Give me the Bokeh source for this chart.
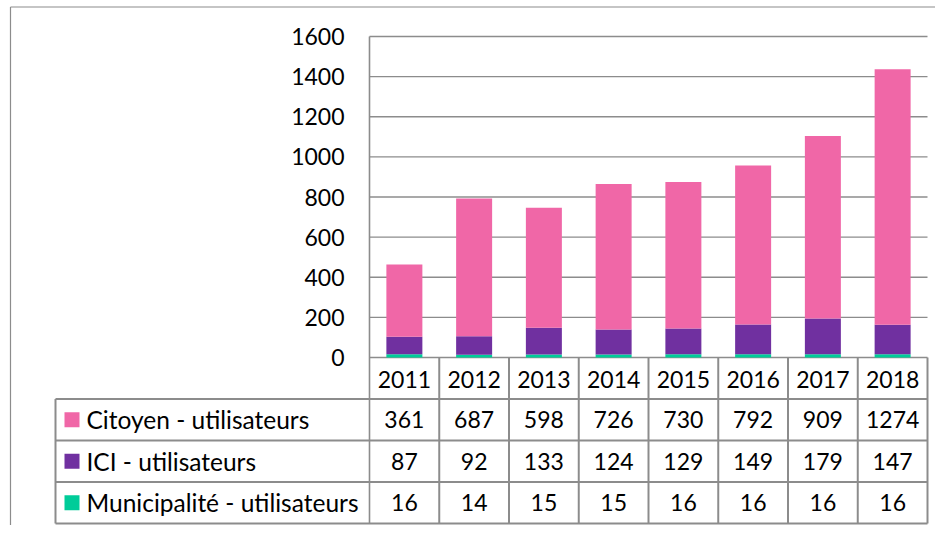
from bokeh.plotting import figure
from bokeh.models import Range1d, ColumnDataSource
from bokeh.core.properties import value
from bokeh.embed import file_html
from bokeh.resources import INLINE

# ---- data ----
years = ["2011", "2012", "2013", "2014", "2015", "2016", "2017", "2018"]
citoyen = [361, 687, 598, 726, 730, 792, 909, 1274]
ici = [87, 92, 133, 124, 129, 149, 179, 147]
municipalite = [16, 14, 15, 15, 16, 16, 16, 16]
series_names = ["Citoyen - utilisateurs", "ICI - utilisateurs", "Municipalité - utilisateurs"]
y_ticks = [0, 200, 400, 600, 800, 1000, 1200, 1400, 1600]

# ---- styles / layout ----
PINK = "#F067A7"
PURPLE = "#7030A0"
GREEN = "#00CC99"
LINE = "#8C8C8C"
FONT = "Lato"
FS = "23px"
FS_LEG = "24.5px"

W, H = 935, 525
FIG_LEFT, FIG_TOP = 0, 0
PX_X0 = 369.0          # left edge of first data column (page px)
COL_W = 69.75          # column width (px)
PX_Y0 = 357.0          # y pixel of value 0
PX_PER_VAL = 321.0 / 1600.0

def xd(px):
    return (px - PX_X0) / COL_W

def yd(py):
    return (PX_Y0 - py) / PX_PER_VAL

n = len(years)
p = figure(width=W, height=H, x_axis_type=None, y_axis_type=None,
           x_range=Range1d(xd(FIG_LEFT), xd(FIG_LEFT + W)),
           y_range=Range1d(yd(FIG_TOP + H), yd(FIG_TOP)),
           min_border=0, toolbar_location=None, output_backend="svg")
p.outline_line_color = None
p.grid.visible = False
p.background_fill_color = "white"
p.border_fill_color = "white"

# outer chart border (left + top visible)
p.segment(x0=[xd(10), xd(10)], y0=[yd(6.5), yd(6.5)], x1=[xd(10), xd(FIG_LEFT + W)],
          y1=[yd(FIG_TOP + H), yd(6.5)], line_color=LINE, line_width=1.2)

# gridlines
grid_y = [t for t in y_ticks]
p.segment(x0=[0] * len(grid_y), x1=[n] * len(grid_y), y0=grid_y, y1=grid_y,
          line_color=LINE, line_width=1.3)

# stacked bars
src = ColumnDataSource(dict(x=[i + 0.5 for i in range(n)], citoyen=citoyen, ici=ici,
                            municipalite=municipalite))
p.vbar_stack(["municipalite", "ici", "citoyen"], x="x", width=36 / COL_W,
             color=[GREEN, PURPLE, PINK], line_color=None, source=src)

# y tick labels
p.text(x=[xd(344)] * len(y_ticks), y=y_ticks, text=[str(t) for t in y_ticks],
       text_align="right", text_baseline="middle", text_font=value(FONT),
       text_font_size=FS, text_color="black")

# table geometry
row_edges = [PX_Y0, 398.5, 440.0, 481.5, 523.0]
LEG_LEFT = 55.0
bottom = yd(row_edges[-1])

# vertical lines: axis line through table
p.segment(x0=[0], x1=[0], y0=[y_ticks[-1]], y1=[bottom], line_color=LINE, line_width=1.6)
p.segment(x0=list(range(1, n + 1)), x1=list(range(1, n + 1)),
          y0=[0] * n, y1=[bottom] * n, line_color=LINE, line_width=2)
p.segment(x0=[xd(LEG_LEFT)], x1=[xd(LEG_LEFT)], y0=[yd(row_edges[1])], y1=[bottom],
          line_color=LINE, line_width=2)
# horizontal lines
p.segment(x0=[xd(LEG_LEFT)] * 4, x1=[n] * 4, y0=[yd(r) for r in row_edges[1:]],
          y1=[yd(r) for r in row_edges[1:]], line_color=LINE, line_width=2)

# header years
hdr_y = yd((row_edges[0] + row_edges[1]) / 2 + 1)
p.text(x=[i + 0.5 for i in range(n)], y=[hdr_y] * n, text=years,
       text_align="center", text_baseline="middle", text_font=value(FONT),
       text_font_size=FS, text_color="black")

# rows
rows = [citoyen, ici, municipalite]
colors = [PINK, PURPLE, GREEN]
for r, (vals, name, col) in enumerate(zip(rows, series_names, colors)):
    cy = yd((row_edges[r + 1] + row_edges[r + 2]) / 2)
    p.text(x=[i + 0.5 for i in range(n)], y=[cy] * n, text=[str(v) for v in vals],
           text_align="center", text_baseline="middle", text_font=value(FONT),
           text_font_size=FS, text_color="black")
    p.rect(x=[xd(71.5)], y=[cy], width=15, height=15, width_units="screen",
           height_units="screen", fill_color=col, line_color=None)
    p.text(x=[xd(86)], y=[cy], text=[name], text_align="left", text_baseline="middle",
           text_font=value(FONT), text_font_size=FS_LEG, text_color="black")

open("out.html", "w").write(file_html(p, INLINE))
